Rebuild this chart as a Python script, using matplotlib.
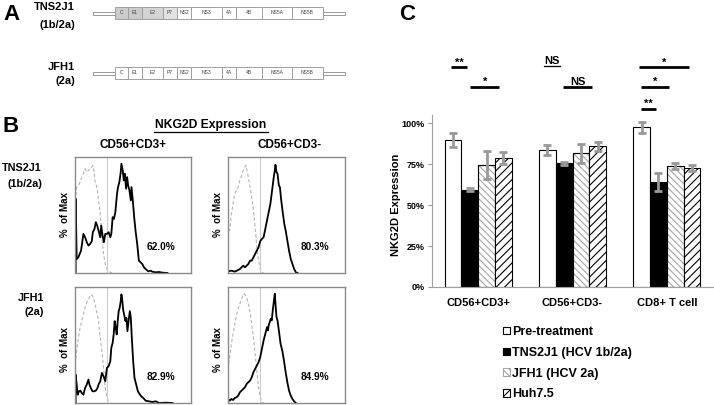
import matplotlib.pyplot as plt
from matplotlib.patches import Rectangle
import numpy as np

plt.rcParams['font.family'] = ['Liberation Sans', 'DejaVu Sans']
plt.rcParams['font.weight'] = 'bold'
plt.rcParams['hatch.linewidth'] = 0.8

W, H = 714, 405

# ---- panel A: HCV genome map ----
genes = ['C', 'E1', 'E2', 'P7', 'NS2', 'NS3', '4A', '4B', 'NS5A', 'NS5B']
gene_len = [13, 14, 21, 14, 14, 31, 14, 26, 30, 31]
utr_len = 22
tns_1b_genes = ['C', 'E1', 'E2', 'P7']

# ---- panel B: flow histograms (channel, count) ----
tns_cd3p = [(2, 0), (2, 222), (5, 42), (10, 47), (18, 67), (25, 117), (30, 107), (35, 92),
            (40, 82), (45, 87), (50, 95), (53, 122), (58, 132), (62, 152), (66, 142), (70, 127),
            (75, 107), (78, 142), (82, 112), (86, 92), (90, 117), (95, 117), (100, 122),
            (105, 107), (108, 117), (112, 167), (116, 162), (120, 182), (125, 237), (128, 257),
            (132, 272), (136, 302), (138, 327), (142, 307), (145, 277), (148, 297), (152, 252),
            (155, 287), (158, 262), (162, 247), (166, 217), (168, 257), (172, 217), (176, 167),
            (180, 127), (185, 87), (190, 37), (195, 32), (200, 27), (205, 17), (210, 12),
            (218, 5), (225, 7), (230, 4), (240, 2), (250, 3), (260, 1), (275, 0)]
tns_cd3p_iso = [(0, 0), (0, 200), (5, 257), (10, 262), (15, 272), (20, 287), (25, 297),
                (30, 312), (35, 302), (40, 307), (45, 312), (50, 317), (53, 322), (56, 307),
                (60, 272), (65, 257), (70, 217), (75, 177), (80, 107), (85, 57), (90, 27),
                (95, 12), (100, 5), (110, 0)]
tns_cd3n = [(0, 5), (10, 7), (20, 4), (30, 9), (35, 12), (40, 17), (45, 22), (50, 17),
            (55, 22), (60, 27), (65, 37), (70, 37), (75, 47), (80, 57), (85, 67), (90, 77),
            (95, 95), (100, 102), (105, 107), (110, 132), (115, 157), (120, 182), (125, 207),
            (130, 247), (135, 287), (138, 307), (140, 324), (143, 302), (146, 297), (150, 262),
            (153, 257), (157, 217), (162, 177), (166, 147), (170, 127), (175, 97), (180, 67),
            (185, 42), (190, 27), (195, 12), (200, 2), (205, 0)]
tns_cd3n_iso = [(0, 0), (0, 140), (5, 127), (10, 177), (15, 207), (20, 237), (25, 247),
                (30, 257), (35, 277), (40, 292), (45, 307), (50, 317), (53, 322), (56, 307),
                (60, 287), (65, 257), (70, 227), (75, 187), (80, 137), (85, 77), (90, 37),
                (95, 12), (100, 2), (105, 0)]
jfh_cd3p = [(2, 0), (2, 85), (5, 55), (8, 25), (12, 35), (16, 37), (20, 30), (25, 25),
            (30, 45), (35, 55), (40, 70), (43, 55), (47, 45), (52, 35), (57, 35), (62, 37),
            (67, 45), (70, 55), (75, 65), (80, 90), (85, 80), (90, 65), (95, 105), (100, 110),
            (105, 125), (108, 165), (112, 180), (115, 205), (118, 245), (121, 225), (124, 205),
            (127, 245), (130, 275), (133, 285), (136, 305), (138, 325), (140, 315), (143, 280),
            (146, 265), (150, 245), (153, 255), (156, 215), (160, 250), (163, 275), (166, 255),
            (169, 195), (173, 125), (177, 75), (182, 55), (187, 35), (192, 27), (197, 20),
            (203, 15), (210, 7), (220, 5), (230, 3), (240, 5), (250, 0), (270, 1), (290, 0)]
jfh_cd3p_iso = [(0, 0), (0, 115), (5, 155), (10, 195), (15, 225), (20, 245), (25, 265),
                (30, 285), (35, 300), (40, 310), (45, 320), (48, 325), (52, 320), (56, 310),
                (60, 295), (65, 270), (70, 245), (75, 195), (80, 155), (85, 105), (90, 45),
                (95, 15), (100, 3), (105, 0)]
jfh_cd3n = [(0, 12), (5, 7), (10, 12), (15, 9), (20, 15), (25, 17), (30, 22), (35, 32),
            (40, 37), (45, 42), (50, 47), (55, 57), (60, 62), (65, 67), (70, 77), (75, 92),
            (80, 102), (85, 112), (90, 122), (95, 137), (100, 162), (105, 187), (110, 207),
            (115, 227), (118, 217), (120, 232), (123, 242), (126, 252), (129, 247), (132, 277),
            (135, 302), (138, 327), (140, 297), (143, 257), (146, 247), (150, 217), (155, 177),
            (160, 157), (165, 127), (170, 92), (175, 62), (180, 37), (185, 22), (190, 12),
            (195, 5), (200, 0)]
jfh_cd3n_iso = [(0, 0), (0, 105), (5, 137), (10, 177), (15, 207), (20, 237), (25, 262),
                (30, 282), (35, 297), (40, 312), (45, 322), (48, 327), (52, 322), (56, 312),
                (60, 297), (65, 272), (70, 237), (75, 197), (80, 147), (85, 97), (90, 47),
                (95, 17), (100, 2), (105, 0)]
gate_channel = 95
hist_pct = ['62.0%', '80.3%', '82.9%', '84.9%']

# ---- panel C: NKG2D expression ----
groups = ['CD56+CD3+', 'CD56+CD3-', 'CD8+ T cell']
series = ['Pre-treatment', 'TNS2J1 (HCV 1b/2a)', 'JFH1 (HCV 2a)', 'Huh7.5']
pre = [0.90, 0.835, 0.975]
pre_err = [0.043, 0.032, 0.032]
tns = [0.595, 0.755, 0.642]
tns_err = [0.01, 0.01, 0.055]
jfh = [0.745, 0.815, 0.738]
jfh_err = [0.085, 0.06, 0.02]
huh = [0.787, 0.858, 0.727]
huh_err = [0.035, 0.025, 0.018]


def px_box(x0, y0, x1, y1):
    return [x0 / W, 1 - y1 / H, (x1 - x0) / W, (y1 - y0) / H]


fig = plt.figure(figsize=(W / 100, H / 100), dpi=100)

ov = fig.add_axes([0, 0, 1, 1])
ov.set_xlim(0, W)
ov.set_ylim(H, 0)
ov.axis('off')

# panel letters
for letter, x, y in [('A', 3, 14), ('B', 2, 126), ('C', 399, 14)]:
    ov.text(x, y, letter, fontsize=16, ha='left', va='center')

# panel A
shade = {'C': '#cccccc', 'E1': '#cccccc', 'E2': '#d4d4d4', 'P7': '#e2e2e2'}


def genome(y, shaded):
    x = 93
    ov.add_patch(Rectangle((x, y + 4.5), utr_len, 3.5, fc='white', ec='#999999', lw=0.7))
    x += utr_len
    for g, L in zip(genes, gene_len):
        fc = shade.get(g, 'white') if (shaded and g in tns_1b_genes) else 'white'
        ov.add_patch(Rectangle((x, y), L, 12, fc=fc, ec='#a0a0a0', lw=0.7))
        ov.text(x + L / 2, y + 6, g, fontsize=3.6, ha='center', va='center',
                color='#444444', fontweight='normal')
        x += L
    ov.add_patch(Rectangle((x, y + 4.5), utr_len, 3.5, fc='white', ec='#999999', lw=0.7))


genome(7, True)
genome(67, False)
ov.text(75, 7, 'TNS2J1', fontsize=8, ha='right', va='center')
ov.text(75, 25, '(1b/2a)', fontsize=8, ha='right', va='center')
ov.text(75, 67, 'JFH1', fontsize=8, ha='right', va='center')
ov.text(75, 81, '(2a)', fontsize=8, ha='right', va='center')

# panel B headers
ov.text(211, 125, 'NKG2D Expression', fontsize=8.7, ha='center', va='center')
ov.plot([154, 268], [131.5, 131.5], color='black', lw=0.9)
ov.text(133, 145, 'CD56+CD3+', fontsize=8.5, ha='center', va='center')
ov.text(290, 145, 'CD56+CD3-', fontsize=8.5, ha='center', va='center')
ov.text(41, 168, 'TNS2J1', fontsize=7.8, ha='right', va='center')
ov.text(42, 184, '(1b/2a)', fontsize=7.8, ha='right', va='center')
ov.text(44, 298, 'JFH1', fontsize=7.8, ha='right', va='center')
ov.text(44, 312, '(2a)', fontsize=7.8, ha='right', va='center')
for x, y in [(65, 215), (218, 215), (65, 350), (218, 350)]:
    ov.text(x, y, '%  of Max', fontsize=7, rotation=90, ha='center', va='center')

hists = [(tns_cd3p, tns_cd3p_iso), (tns_cd3n, tns_cd3n_iso),
         (jfh_cd3p, jfh_cd3p_iso), (jfh_cd3n, jfh_cd3n_iso)]
boxes = [(75, 157, 191, 273), (228, 157, 345, 273), (75, 287, 191, 403), (228, 287, 345, 403)]
for (pos, iso), b, pct in zip(hists, boxes, hist_pct):
    ax = fig.add_axes(px_box(*b))
    xs, ys = zip(*iso)
    ax.plot(xs, ys, color='#b4b4b4', lw=0.8, ls=(0, (3, 2)))
    ax.axvline(gate_channel, color='#cccccc', lw=0.8)
    xs, ys = zip(*pos)
    ax.plot(xs, ys, color='black', lw=1.3)
    ax.set_xlim(0, 345)
    ax.set_ylim(0, 347)
    ax.set_xticks([])
    ax.set_yticks([])
    for s in ax.spines.values():
        s.set_color('#8a8a8a')
        s.set_linewidth(1)
    ax.text(0.74, 0.22, pct, fontsize=7.3, ha='center', va='center', transform=ax.transAxes)

# panel C
bx = fig.add_axes(px_box(432, 115, 714, 287))
x = np.arange(len(groups))
w = 0.178
eb = dict(fmt='none', ecolor='#999999', elinewidth=2, capsize=3, capthick=2, zorder=4)

b_pre = bx.bar(x - 1.5 * w, pre, w, color='white', edgecolor='black', lw=0.8, label=series[0])
b_tns = bx.bar(x - 0.5 * w, tns, w, color='black', edgecolor='black', lw=0.8, label=series[1])
b_jfh = bx.bar(x + 0.5 * w, jfh, w, color='white', edgecolor='#a6a6a6', lw=0.8,
               hatch='\\\\\\\\\\', label=series[2])
bx.bar(x + 0.5 * w, jfh, w, color='none', edgecolor='black', lw=0.8)
b_huh = bx.bar(x + 1.5 * w, huh, w, color='white', edgecolor='black', lw=0.8,
               hatch='////', label=series[3])
bx.errorbar(x - 1.5 * w, pre, yerr=pre_err, **eb)
bx.errorbar(x - 0.5 * w, tns, yerr=tns_err, **eb)
bx.errorbar(x + 0.5 * w, jfh, yerr=jfh_err, **eb)
bx.errorbar(x + 1.5 * w, huh, yerr=huh_err, **eb)

bx.set_xlim(-0.49, 2.5)
bx.set_ylim(0, 1.05)
bx.set_yticks([0, 0.25, 0.5, 0.75, 1.0])
bx.set_yticklabels(['0%', '25%', '50%', '75%', '100%'], fontsize=6.5)
bx.set_xticks(x)
bx.set_xticklabels(groups, fontsize=8)
bx.tick_params(axis='x', length=0, pad=8)
bx.tick_params(axis='y', length=3, color='#999999', pad=2)
for s in ['top', 'right']:
    bx.spines[s].set_visible(False)
for s in ['left', 'bottom']:
    bx.spines[s].set_color('#a0a0a0')
bx.patch.set_alpha(0)
ov.text(396, 205, 'NKG2D Expression', fontsize=8, rotation=90, ha='center', va='center')

# significance marks
sig = [(-0.286, -0.117, 1.34, '**'), (-0.085, 0.223, 1.22, '*'),
       (0.901, 1.209, 1.22, 'NS'), (1.707, 2.237, 1.34, '*'),
       (1.729, 2.025, 1.22, '*'), (1.729, 1.888, 1.085, '**')]
for x0, x1, yl, lab in sig:
    bx.plot([x0, x1], [yl, yl], color='black', lw=2, clip_on=False, solid_capstyle='butt')
    bx.annotate(lab, ((x0 + x1) / 2, yl), xytext=(0, 1.5), textcoords='offset points',
                ha='center', va='baseline', fontsize=8, annotation_clip=False)
bx.text(0.785, 1.36, 'NS', fontsize=8, ha='center', va='baseline', clip_on=False)
bx.plot([0.70, 0.865], [1.347, 1.347], color='black', lw=0.9, clip_on=False)

fig.legend(handles=[b_pre, b_tns, b_jfh, b_huh], labels=series, loc='upper left',
           bbox_to_anchor=(503 / W, 1 - 326 / H), frameon=False, fontsize=9,
           handlelength=0.55, handleheight=0.55, handletextpad=0.2, labelspacing=0.7,
           borderpad=0, borderaxespad=0)

fig.savefig('out.png', dpi=100)
